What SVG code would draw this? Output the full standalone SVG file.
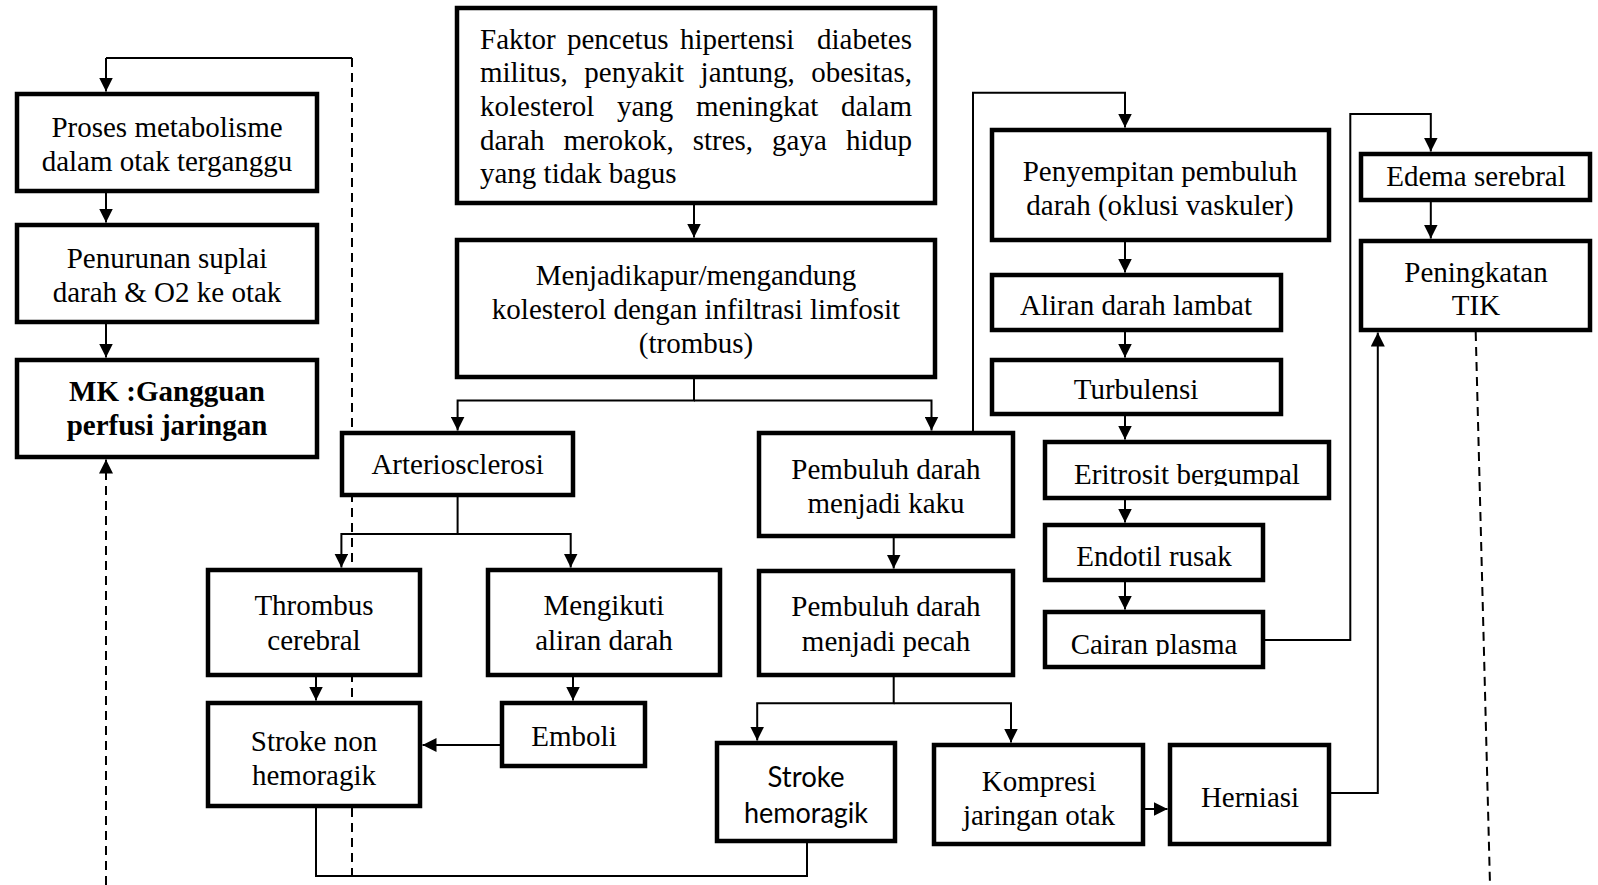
<svg xmlns="http://www.w3.org/2000/svg" width="1598" height="885" viewBox="0 0 1598 885">
<style>
.box{fill:#fff;stroke:#000;stroke-width:4.5}
.t{font-family:"Liberation Serif","Times New Roman",serif;font-size:29px;fill:#000;text-anchor:middle}
.b{font-weight:bold}
.l{text-anchor:start}
.s{font-family:Lato,"Liberation Sans",sans-serif;font-size:28px}
.c{fill:none;stroke:#000;stroke-width:2}
.a{marker-end:url(#ah)}
.d{stroke-dasharray:9 6}
</style>
<defs>
<marker id="ah" markerUnits="userSpaceOnUse" markerWidth="14" markerHeight="14" refX="14" refY="7" orient="auto">
<path d="M0,0 L14,7 L0,14 Z" fill="#000"/>
</marker>
<clipPath id="clipS"><rect x="1045" y="442" width="284" height="44"/></clipPath>
<clipPath id="clipU"><rect x="1045" y="612" width="218" height="44"/></clipPath>
</defs>
<rect width="1598" height="885" fill="#fff"/>
<g id="connectors">
<path class="c" d="M352,58 H106"/>
<path class="c a" d="M106,58 V91.5"/>
<path class="c d" d="M352,58 V876"/>
<path class="c d a" d="M106,885 V459.5"/>
<path class="c a" d="M106,191 V222.5"/>
<path class="c a" d="M106,322 V357.5"/>
<path class="c a" d="M694,203 V237.5"/>
<path class="c a" d="M694,377 V400.5 H457.6 V430.5"/>
<path class="c a" d="M694,400.5 H931.5 V430.5"/>
<path class="c a" d="M457.6,495 V534 H341.4 V567.5"/>
<path class="c a" d="M457.6,534 H570.7 V567.5"/>
<path class="c a" d="M316,675 V700.5"/>
<path class="c a" d="M573,675 V700.5"/>
<path class="c a" d="M502,745 H422.5"/>
<path class="c" d="M316,806 V876 H807 V841"/>
<path class="c a" d="M973,433 V92.7 H1125 V127.5"/>
<path class="c a" d="M893.7,536 V568.5"/>
<path class="c a" d="M893.7,675 V703.2 H757.2 V740.5"/>
<path class="c a" d="M893.7,703.2 H1011 V742.5"/>
<path class="c a" d="M1143,809 H1167.5"/>
<path class="c a" d="M1329,793 H1377.8 V332.5"/>
<path class="c a" d="M1125,240 V272.5"/>
<path class="c a" d="M1125,330 V357.5"/>
<path class="c a" d="M1125,414 V439.5"/>
<path class="c a" d="M1125,498 V522.5"/>
<path class="c a" d="M1125,575 V609.5"/>
<path class="c a" d="M1263,640 H1350.3 V114 H1430.8 V151.5"/>
<path class="c a" d="M1430.8,200 V238.5"/>
<path class="c d" d="M1475.7,332 L1490,885"/>
</g>
<g id="nodeA"><rect class="box" x="17" y="94" width="300" height="97"/>
<text class="t" x="167" y="137">Proses metabolisme</text><text class="t" x="167" y="171">dalam otak terganggu</text></g>
<g id="nodeB"><rect class="box" x="17" y="225" width="300" height="97"/>
<text class="t" x="167" y="268">Penurunan suplai</text><text class="t" x="167" y="302">darah &amp; O2 ke otak</text></g>
<g id="nodeC"><rect class="box" x="17" y="360" width="300" height="97"/>
<text class="t b" x="167" y="401">MK :Gangguan</text><text class="t b" x="167" y="435">perfusi jaringan</text></g>
<g id="nodeD"><rect class="box" x="457" y="8" width="478" height="195"/>
<text class="t l" y="48.7"><tspan x="480">Faktor</tspan><tspan x="567">pencetus</tspan><tspan x="680">hipertensi</tspan><tspan x="817">diabetes</tspan></text>
<text class="t l" y="82.4"><tspan x="480">militus,</tspan><tspan x="584.3">penyakit</tspan><tspan x="700.6">jantung,</tspan><tspan x="811.3">obesitas,</tspan></text>
<text class="t l" y="116"><tspan x="480">kolesterol</tspan><tspan x="617">yang</tspan><tspan x="696">meningkat</tspan><tspan x="841.1">dalam</tspan></text>
<text class="t l" y="149.6"><tspan x="480">darah</tspan><tspan x="563.4">merokok,</tspan><tspan x="692.7">stres,</tspan><tspan x="772.1">gaya</tspan><tspan x="845.9">hidup</tspan></text>
<text class="t l" x="480" y="183.2">yang tidak bagus</text></g>
<g id="nodeE"><rect class="box" x="457" y="240" width="478" height="137"/>
<text class="t" x="696" y="285">Menjadikapur/mengandung</text><text class="t" x="696" y="319">kolesterol dengan infiltrasi limfosit</text><text class="t" x="696" y="353">(trombus)</text></g>
<g id="nodeF"><rect class="box" x="342" y="433" width="231" height="62"/>
<text class="t" x="457.6" y="474">Arteriosclerosi</text></g>
<g id="nodeG"><rect class="box" x="208" y="570" width="212" height="105"/>
<text class="t" x="314" y="615">Thrombus</text><text class="t" x="314" y="650">cerebral</text></g>
<g id="nodeH"><rect class="box" x="488" y="570" width="232" height="105"/>
<text class="t" x="604" y="615">Mengikuti</text><text class="t" x="604" y="650">aliran darah</text></g>
<g id="nodeI"><rect class="box" x="208" y="703" width="212" height="103"/>
<text class="t" x="314" y="751">Stroke non</text><text class="t" x="314" y="785">hemoragik</text></g>
<g id="nodeJ"><rect class="box" x="502" y="703" width="143" height="63"/>
<text class="t" x="574" y="746">Emboli</text></g>
<g id="nodeK"><rect class="box" x="759" y="433" width="254" height="103"/>
<text class="t" x="886" y="479">Pembuluh darah</text><text class="t" x="886" y="513">menjadi kaku</text></g>
<g id="nodeL"><rect class="box" x="759" y="571" width="254" height="104"/>
<text class="t" x="886" y="616">Pembuluh darah</text><text class="t" x="886" y="651">menjadi pecah</text></g>
<g id="nodeM"><rect class="box" x="717" y="743" width="178" height="98"/>
<text class="t s" x="806" y="787" textLength="77" lengthAdjust="spacingAndGlyphs">Stroke</text><text class="t s" x="806" y="823" textLength="124" lengthAdjust="spacingAndGlyphs">hemoragik</text></g>
<g id="nodeN"><rect class="box" x="934" y="745" width="209" height="99"/>
<text class="t" x="1039" y="791">Kompresi</text><text class="t" x="1039" y="825">jaringan otak</text></g>
<g id="nodeO"><rect class="box" x="1170" y="745" width="159" height="99"/>
<text class="t" x="1250" y="807">Herniasi</text></g>
<g id="nodeP"><rect class="box" x="992" y="130" width="337" height="110"/>
<text class="t" x="1160" y="181">Penyempitan pembuluh</text><text class="t" x="1160" y="215">darah (oklusi vaskuler)</text></g>
<g id="nodeQ"><rect class="box" x="992" y="275" width="289" height="55"/>
<text class="t" x="1136" y="315">Aliran darah lambat</text></g>
<g id="nodeR"><rect class="box" x="992" y="360" width="289" height="54"/>
<text class="t" x="1136" y="399">Turbulensi</text></g>
<g id="nodeS"><rect class="box" x="1045" y="442" width="284" height="56"/>
<g clip-path="url(#clipS)"><text class="t" x="1187" y="484">Eritrosit bergumpal</text></g></g>
<g id="nodeT"><rect class="box" x="1045" y="525" width="218" height="55"/>
<text class="t" x="1154" y="566">Endotil rusak</text></g>
<g id="nodeU"><rect class="box" x="1045" y="612" width="218" height="55"/>
<g clip-path="url(#clipU)"><text class="t" x="1154" y="654">Cairan plasma</text></g></g>
<g id="nodeV"><rect class="box" x="1361" y="154" width="229" height="46"/>
<text class="t" x="1476" y="186">Edema serebral</text></g>
<g id="nodeW"><rect class="box" x="1361" y="241" width="229" height="89"/>
<text class="t" x="1476" y="282">Peningkatan</text><text class="t" x="1476" y="315">TIK</text></g>
</svg>
